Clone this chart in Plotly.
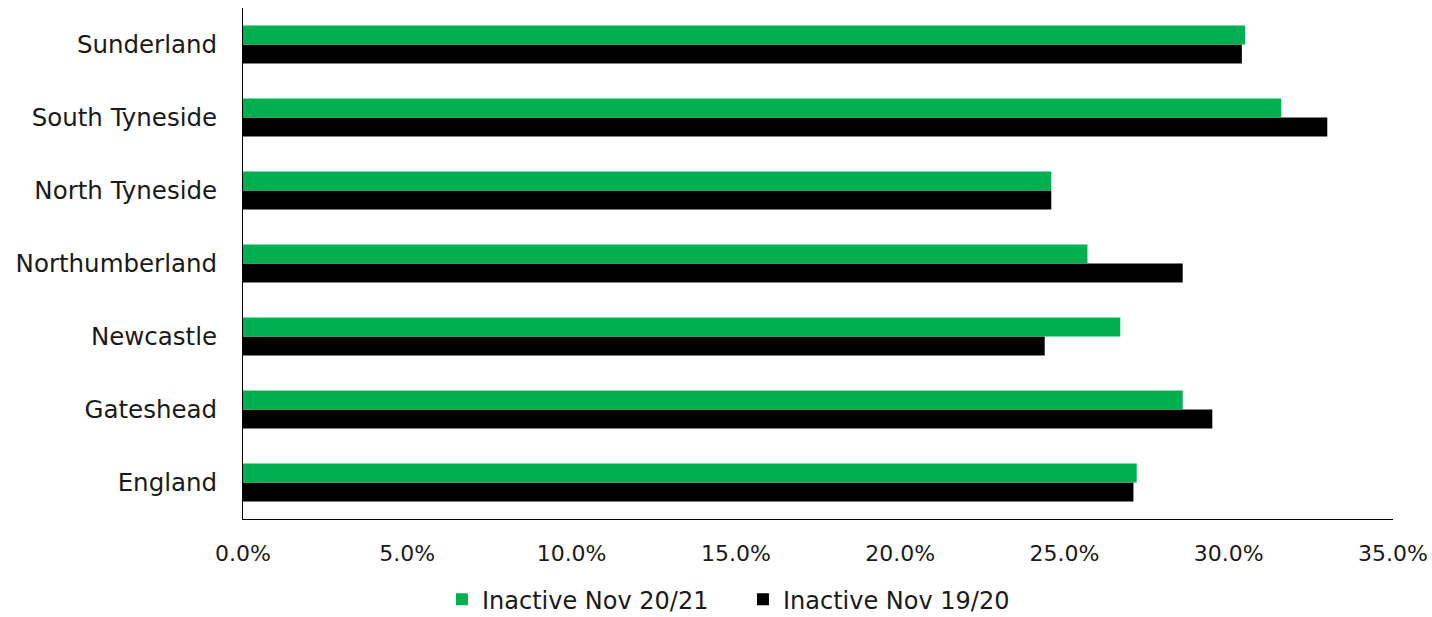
import plotly.graph_objects as go

categories = ["England", "Gateshead", "Newcastle", "Northumberland",
              "North Tyneside", "South Tyneside", "Sunderland"]
inactive_20_21 = [27.2, 28.6, 26.7, 25.7, 24.6, 31.6, 30.5]
inactive_19_20 = [27.1, 29.5, 24.4, 28.6, 24.6, 33.0, 30.4]
x_ticks = [0, 5, 10, 15, 20, 25, 30, 35]
x_tick_labels = ["0.0%", "5.0%", "10.0%", "15.0%", "20.0%", "25.0%", "30.0%", "35.0%"]

FONT = "DejaVu Sans"
TXT = "#1a1a1a"

fig = go.Figure()
fig.add_trace(go.Bar(
    y=categories, x=inactive_19_20, orientation="h",
    name="Inactive Nov 19/20", marker=dict(color="#000000", line=dict(width=0)),
))
fig.add_trace(go.Bar(
    y=categories, x=inactive_20_21, orientation="h",
    name="Inactive Nov 20/21", marker=dict(color="#00B050", line=dict(width=0)),
))

fig.update_layout(
    width=1432, height=617,
    margin=dict(l=243, r=39, t=8, b=98, autoexpand=False),
    paper_bgcolor="white", plot_bgcolor="white",
    barmode="group", bargap=0.48, bargroupgap=0,
    font=dict(family=FONT, size=22, color=TXT),
    showlegend=True,
    legend=dict(orientation="h", x=0.173, xanchor="left", y=-0.158, yanchor="middle",
                traceorder="reversed", font=dict(family=FONT, size=24, color=TXT),
                itemwidth=30, tracegroupgap=0, borderwidth=0, bgcolor="rgba(0,0,0,0)",
                entrywidth=256, entrywidthmode="pixels"),
    xaxis=dict(range=[0, 35], tickmode="array", tickvals=x_ticks, ticktext=x_tick_labels,
               showgrid=False, zeroline=False, showline=True, linecolor="#000000", linewidth=1,
               ticks="", automargin=False,
               tickfont=dict(family=FONT, size=22, color=TXT), ticklabelstandoff=15),
    yaxis=dict(categoryorder="array", categoryarray=categories,
               showgrid=False, zeroline=False, showline=True, linecolor="#000000", linewidth=1,
               ticks="", automargin=False,
               tickfont=dict(family=FONT, size=24.5, color=TXT), ticklabelstandoff=20),
)

fig.write_html("out.html")
